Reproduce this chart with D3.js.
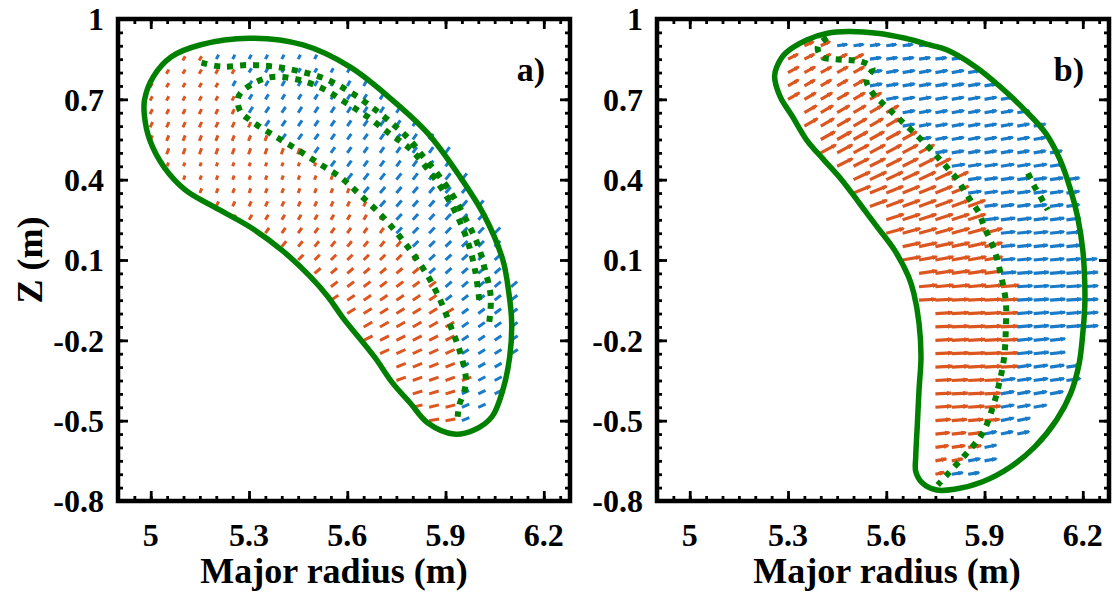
<!DOCTYPE html>
<html><head><meta charset="utf-8">
<script src="https://cdn.jsdelivr.net/npm/d3@7"></script>
<style>html,body{margin:0;padding:0;background:#fff;} svg{display:block;}</style>
</head><body>
<svg id="chart" width="1113" height="597"></svg>
<script>
// ---------------- data ----------------
const xDomain = [4.9, 6.28];
const yDomain = [-0.8, 1.0];
const xTicks = [5, 5.3, 5.6, 5.9, 6.2];
const xTickLabels = ["5", "5.3", "5.6", "5.9", "6.2"];
const yTicks = [1, 0.7, 0.4, 0.1, -0.2, -0.5, -0.8];
const yTickLabels = ["1", "0.7", "0.4", "0.1", "-0.2", "-0.5", "-0.8"];
const xTitle = "Major radius (m)";
const yTitle = "Z (m)";
const panelLabels = ["a)", "b)"];
const gridStep = 0.05;

// panel a : plasma boundary (solid green)
const aBoundaryR = [5.302, 5.465, 5.607, 5.737, 5.846, 5.944, 6.02, 6.075, 6.093, 6.102, 6.096, 6.075, 6.042, 5.987, 5.925, 5.846, 5.792, 5.738, 5.683, 5.585, 5.541, 5.487, 5.4, 5.302, 5.192, 5.106, 5.04, 4.997, 4.981, 4.981, 5.008, 5.063, 5.15];
const aBoundaryZ = [0.928, 0.903, 0.822, 0.698, 0.573, 0.411, 0.262, 0.1, -0.02, -0.135, -0.261, -0.385, -0.485, -0.535, -0.55, -0.509, -0.434, -0.359, -0.262, -0.113, -0.037, 0.038, 0.137, 0.224, 0.299, 0.361, 0.448, 0.548, 0.635, 0.698, 0.785, 0.859, 0.903];
// panel a : dotted surfaces
const aDotAR = [5.155, 5.216, 5.297, 5.378, 5.46, 5.536, 5.61, 5.676, 5.739, 5.79, 5.825, 5.876, 5.923, 5.962, 5.997, 6.018, 6.038, 6.033];
const aDotAZ = [0.837, 0.822, 0.828, 0.822, 0.803, 0.775, 0.726, 0.67, 0.608, 0.55, 0.496, 0.421, 0.339, 0.252, 0.162, 0.075, -0.037, -0.136];
const aDotBR = [6.003, 5.99, 5.966, 5.93, 5.887, 5.838, 5.789, 5.728, 5.662, 5.591, 5.524, 5.444, 5.363, 5.29, 5.266, 5.274, 5.302, 5.373, 5.444, 5.513, 5.581, 5.642, 5.703, 5.754, 5.805, 5.85, 5.886, 5.916, 5.944, 5.962, 5.957, 5.942, 5.937];
const aDotBZ = [-0.049, 0.063, 0.175, 0.279, 0.369, 0.451, 0.518, 0.573, 0.635, 0.691, 0.741, 0.775, 0.782, 0.741, 0.704, 0.654, 0.623, 0.567, 0.515, 0.461, 0.407, 0.34, 0.268, 0.197, 0.115, 0.032, -0.056, -0.149, -0.242, -0.342, -0.392, -0.441, -0.485];
// panel a : vector field rows (grid rows of the quiver plot)
const aRowZ      = [0.85, 0.8, 0.75, 0.7, 0.65, 0.6, 0.55, 0.5, 0.45, 0.4, 0.35, 0.3, 0.25, 0.2, 0.15, 0.1, 0.05, 0, -0.05, -0.1, -0.15, -0.2, -0.25, -0.3, -0.35, -0.4, -0.45, -0.5];
const aRowStart  = [5.1, 5.05, 5.0, 5.0, 5.0, 5.0, 5.0, 5.05, 5.05, 5.1, 5.15, 5.2, 5.25, 5.35, 5.4, 5.45, 5.5, 5.55, 5.55, 5.6, 5.65, 5.65, 5.7, 5.75, 5.75, 5.8, 5.8, 5.85];
const aRowSplit  = [5.17, 5.27, 5.22, 5.27, 5.28, 5.33, 5.4, 5.46, 5.52, 5.58, 5.63, 5.67, 5.71, 5.75, 5.78, 5.81, 5.84, 5.86, 5.88, 5.9, 5.91, 5.93, 5.94, 5.95, 5.96, 5.95, 5.94, 5.93];
const aRowEnd    = [5.5, 5.6, 5.65, 5.7, 5.75, 5.8, 5.85, 5.9, 5.9, 5.95, 5.95, 6.0, 6.0, 6.05, 6.05, 6.05, 6.05, 6.1, 6.1, 6.1, 6.1, 6.1, 6.1, 6.05, 6.05, 6.05, 6.0, 5.95];
const aOrangeMag = [2, 2, 2, 2, 2.5, 3, 3, 3.5, 4, 4.5, 5, 5.5, 6, 6.5, 7, 7.5, 8, 8.5, 9, 9.5, 10, 10, 10, 10, 10, 10, 10, 10];
const aOrangeAng = [60, 60, 60, 62, 64, 66, 68, 70, 70, 70, 68, 65, 60, 55, 50, 45, 40, 37, 34, 32, 30, 27, 25, 22, 20, 17, 14, 10];
const aBlueMag   = [5, 5, 6, 6, 7, 7, 7, 7, 7, 8, 8, 8, 8, 8, 8, 8, 8, 8, 8, 8, 8, 8, 8, 8, 8, 8, 8, 8];
const aBlueAng   = [62, 60, 60, 58, 57, 56, 55, 54, 53, 52, 50, 49, 48, 46, 45, 43, 42, 40, 38, 37, 35, 34, 32, 30, 28, 26, 24, 22];

// panel b : plasma boundary
const bBoundaryR = [5.485, 5.572, 5.658, 5.733, 5.786, 5.872, 5.948, 6.023, 6.087, 6.131, 6.163, 6.184, 6.2, 6.206, 6.206, 6.2, 6.189, 6.163, 6.12, 6.054, 5.98, 5.894, 5.808, 5.754, 5.711, 5.69, 5.69, 5.695, 5.7, 5.706, 5.7, 5.684, 5.668, 5.625, 5.572, 5.518, 5.464, 5.41, 5.357, 5.314, 5.276, 5.259, 5.266, 5.292, 5.357, 5.421];
const bBoundaryZ = [0.953, 0.947, 0.928, 0.903, 0.884, 0.822, 0.747, 0.66, 0.573, 0.473, 0.361, 0.262, 0.137, 0.014, -0.074, -0.174, -0.286, -0.398, -0.497, -0.597, -0.672, -0.728, -0.756, -0.759, -0.734, -0.69, -0.634, -0.51, -0.385, -0.261, -0.136, -0.024, 0.038, 0.137, 0.224, 0.312, 0.399, 0.473, 0.548, 0.635, 0.71, 0.785, 0.822, 0.872, 0.922, 0.947];
// panel b : dotted surfaces
const bDotAR = [5.42, 5.391, 5.402, 5.442, 5.482, 5.524, 5.558, 5.539, 5.558, 5.588, 5.618, 5.648, 5.679, 5.708, 5.737, 5.765, 5.79, 5.818, 5.838, 5.86, 5.883, 5.899, 5.93, 5.95, 5.965, 5.965, 5.96, 5.945, 5.924, 5.894, 5.841, 5.787, 5.757];
const bDotAZ = [0.93, 0.897, 0.859, 0.85, 0.847, 0.841, 0.816, 0.772, 0.724, 0.686, 0.652, 0.617, 0.582, 0.548, 0.511, 0.473, 0.439, 0.399, 0.359, 0.318, 0.276, 0.224, 0.137, 0.044, -0.056, -0.155, -0.261, -0.36, -0.454, -0.547, -0.628, -0.7, -0.74];
const bDotBR = [6.033, 6.05, 6.071, 6.093];
const bDotBZ = [0.424, 0.38, 0.336, 0.287];
// panel b : vector field rows
const bRowZ      = [0.9, 0.85, 0.8, 0.75, 0.7, 0.65, 0.6, 0.55, 0.5, 0.45, 0.4, 0.35, 0.3, 0.25, 0.2, 0.15, 0.1, 0.05, 0, -0.05, -0.1, -0.15, -0.2, -0.25, -0.3, -0.35, -0.4, -0.45, -0.5, -0.55, -0.6, -0.65, -0.7];
const bRowStart  = [5.35, 5.3, 5.3, 5.3, 5.3, 5.35, 5.35, 5.4, 5.4, 5.45, 5.5, 5.5, 5.55, 5.6, 5.6, 5.65, 5.65, 5.7, 5.7, 5.7, 5.75, 5.75, 5.75, 5.75, 5.75, 5.75, 5.75, 5.75, 5.75, 5.75, 5.75, 5.75, 5.75];
const bRowSplit  = [5.43, 5.52, 5.55, 5.55, 5.57, 5.61, 5.64, 5.7, 5.73, 5.78, 5.81, 5.84, 5.87, 5.89, 5.91, 5.925, 5.94, 5.95, 5.96, 5.965, 5.965, 5.965, 5.96, 5.96, 5.955, 5.95, 5.94, 5.925, 5.905, 5.89, 5.86, 5.83, 5.79];
const bRowEnd    = [5.7, 5.8, 5.85, 5.9, 5.95, 6.0, 6.05, 6.05, 6.1, 6.1, 6.15, 6.15, 6.15, 6.15, 6.15, 6.15, 6.2, 6.2, 6.2, 6.2, 6.2, 6.2, 6.1, 6.1, 6.15, 6.15, 6.1, 6.05, 6.0, 6.0, 5.9, 5.9, 5.85];
const bOrangeMag = [10, 11, 12, 12, 13, 14, 15, 16, 17, 17, 18, 18, 18, 18, 18, 18, 18, 18, 18, 17, 17, 17, 17, 17, 17, 16, 16, 16, 15, 14, 13, 11, 9];
const bOrangeAng = [25, 27, 28, 30, 30, 30, 30, 29, 28, 27, 25, 22, 20, 18, 15, 12, 10, 8, 5, 3, 3, 3, 3, 3, 3, 3, 3, 4, 5, 6, 8, 10, 12];
const bBlueMag   = [10, 11, 12, 12, 12, 12, 12, 12, 12, 13, 13, 13, 13, 14, 14, 14, 14, 15, 15, 15, 15, 15, 15, 15, 14, 14, 13, 13, 13, 12, 12, 12, 11];
const bBlueAng   = [8, 8, 10, 10, 10, 10, 10, 10, 10, 9, 8, 8, 8, 7, 6, 6, 5, 5, 4, 4, 5, 5, 6, 6, 8, 8, 10, 10, 12, 12, 12, 10, 8];

// ---------------- drawing ----------------
const ORANGE = "#DC5620", BLUE = "#1A7BC8", GREEN = "#008000";
const FONT = "'Liberation Serif','Times New Roman',Times,serif";
const svg = d3.select("#chart");
const yTop = 19, yBot = 501;

const defs = svg.append("defs");
[["headO", ORANGE], ["headB", BLUE]].forEach(([id, c]) => {
  defs.append("marker").attr("id", id).attr("viewBox", "0 0 6 5")
    .attr("refX", 4.5).attr("refY", 2.5).attr("markerWidth", 6).attr("markerHeight", 5)
    .attr("markerUnits", "userSpaceOnUse").attr("orient", "auto")
    .append("path").attr("d", "M0,0 L6,2.5 L0,5 Z").attr("fill", c);
});

const panels = [
  { x0: 118, x1: 570, titleX: 334, label: panelLabels[0], yTitle: true, heads: false, sw: 3,
    bR: aBoundaryR, bZ: aBoundaryZ, dots: [[aDotAR, aDotAZ], [aDotBR, aDotBZ]],
    rowZ: aRowZ, rowStart: aRowStart, rowSplit: aRowSplit, rowEnd: aRowEnd,
    oMag: aOrangeMag, oAng: aOrangeAng, bMag: aBlueMag, bAng: aBlueAng },
  { x0: 657, x1: 1109, titleX: 887, label: panelLabels[1], yTitle: false, heads: true, sw: 3.2,
    bR: bBoundaryR, bZ: bBoundaryZ, dots: [[bDotAR, bDotAZ], [bDotBR, bDotBZ]],
    rowZ: bRowZ, rowStart: bRowStart, rowSplit: bRowSplit, rowEnd: bRowEnd,
    oMag: bOrangeMag, oAng: bOrangeAng, bMag: bBlueMag, bAng: bBlueAng }
];

panels.forEach(p => {
  const x = d3.scaleLinear().domain(xDomain).range([p.x0, p.x1]);
  const y = d3.scaleLinear().domain(yDomain).range([yBot, yTop]);
  const g = svg.append("g");

  // quiver arrows
  const arrows = [];
  p.rowZ.forEach((z, i) => {
    const n = Math.round((p.rowEnd[i] - p.rowStart[i]) / gridStep);
    for (let k = 0; k <= n; k++) {
      const r = p.rowStart[i] + k * gridStep;
      const orange = r < p.rowSplit[i];
      const mag = orange ? p.oMag[i] : p.bMag[i];
      const ang = (orange ? p.oAng[i] : p.bAng[i]) * Math.PI / 180;
      arrows.push({ r, z, orange, mag, ang });
    }
  });
  g.append("g").selectAll("line").data(arrows).join("line")
    .attr("x1", d => x(d.r)).attr("y1", d => y(d.z))
    .attr("x2", d => x(d.r) + d.mag * Math.cos(d.ang))
    .attr("y2", d => y(d.z) - d.mag * Math.sin(d.ang))
    .attr("stroke", d => d.orange ? ORANGE : BLUE)
    .attr("stroke-width", p.sw)
    .attr("stroke-linecap", d => d.mag < 4 ? "square" : "butt")
    .attr("marker-end", d => p.heads ? (d.orange ? "url(#headO)" : "url(#headB)") : null);

  // dotted surfaces
  const line = d3.line().x(d => x(d[0])).y(d => y(d[1])).curve(d3.curveCatmullRom.alpha(0.5));
  p.dots.forEach(([R, Z]) => {
    g.append("path").datum(R.map((r, i) => [r, Z[i]]))
      .attr("d", line).attr("fill", "none").attr("stroke", GREEN)
      .attr("stroke-width", 6).attr("stroke-dasharray", "6 7");
  });

  // boundary
  const closed = d3.line().x(d => x(d[0])).y(d => y(d[1])).curve(d3.curveCatmullRomClosed.alpha(0.5));
  g.append("path").datum(p.bR.map((r, i) => [r, p.bZ[i]]))
    .attr("d", closed).attr("fill", "none").attr("stroke", GREEN).attr("stroke-width", 5.5);

  // ticks (inward, mirrored on all four sides)
  const xMinor = d3.range(4.9, 6.2801, 0.05);
  const yMinor = d3.range(-0.8, 1.0001, 0.05);
  const styleAxis = sel => { sel.select(".domain").remove(); sel.selectAll("line").attr("stroke", "#000").attr("stroke-width", 2.8); };
  const add = (axis, tx, ty) => g.append("g").attr("transform", `translate(${tx},${ty})`).call(axis).call(styleAxis);
  add(d3.axisBottom(x).tickValues(xMinor).tickSize(-5).tickFormat(""), 0, yBot);
  add(d3.axisBottom(x).tickValues(xTicks).tickSize(-10).tickFormat(""), 0, yBot);
  add(d3.axisTop(x).tickValues(xMinor).tickSize(-5).tickFormat(""), 0, yTop);
  add(d3.axisTop(x).tickValues(xTicks).tickSize(-10).tickFormat(""), 0, yTop);
  add(d3.axisLeft(y).tickValues(yMinor).tickSize(-5).tickFormat(""), p.x0, 0);
  add(d3.axisLeft(y).tickValues(yTicks).tickSize(-10).tickFormat(""), p.x0, 0);
  add(d3.axisRight(y).tickValues(yMinor).tickSize(-5).tickFormat(""), p.x1, 0);
  add(d3.axisRight(y).tickValues(yTicks).tickSize(-10).tickFormat(""), p.x1, 0);

  // frame
  g.append("rect").attr("x", p.x0).attr("y", yTop).attr("width", p.x1 - p.x0).attr("height", yBot - yTop)
    .attr("fill", "none").attr("stroke", "#000").attr("stroke-width", 4.5);

  // tick labels
  g.append("g").selectAll("text").data(xTicks).join("text")
    .attr("x", d => x(d)).attr("y", 546).attr("text-anchor", "middle")
    .attr("font-family", FONT).attr("font-weight", "bold").attr("font-size", 32)
    .text((d, i) => xTickLabels[i]);
  g.append("g").selectAll("text").data(yTicks).join("text")
    .attr("x", p.x0 - 14).attr("y", d => y(d)).attr("dy", "0.35em").attr("text-anchor", "end")
    .attr("font-family", FONT).attr("font-weight", "bold").attr("font-size", 32)
    .text((d, i) => yTickLabels[i]);

  // axis titles
  g.append("text").attr("x", p.titleX).attr("y", 583).attr("text-anchor", "middle")
    .attr("font-family", FONT).attr("font-weight", "bold").attr("font-size", 36).text(xTitle);
  if (p.yTitle) {
    g.append("text").attr("transform", `translate(42,${(yTop + yBot) / 2}) rotate(-90)`)
      .attr("text-anchor", "middle")
      .attr("font-family", FONT).attr("font-weight", "bold").attr("font-size", 36).text(yTitle);
  }
  // panel label
  g.append("text").attr("x", p.x1 - 25).attr("y", 81).attr("text-anchor", "end")
    .attr("font-family", FONT).attr("font-weight", "bold").attr("font-size", 34).text(p.label);
});
</script>
</body></html>
